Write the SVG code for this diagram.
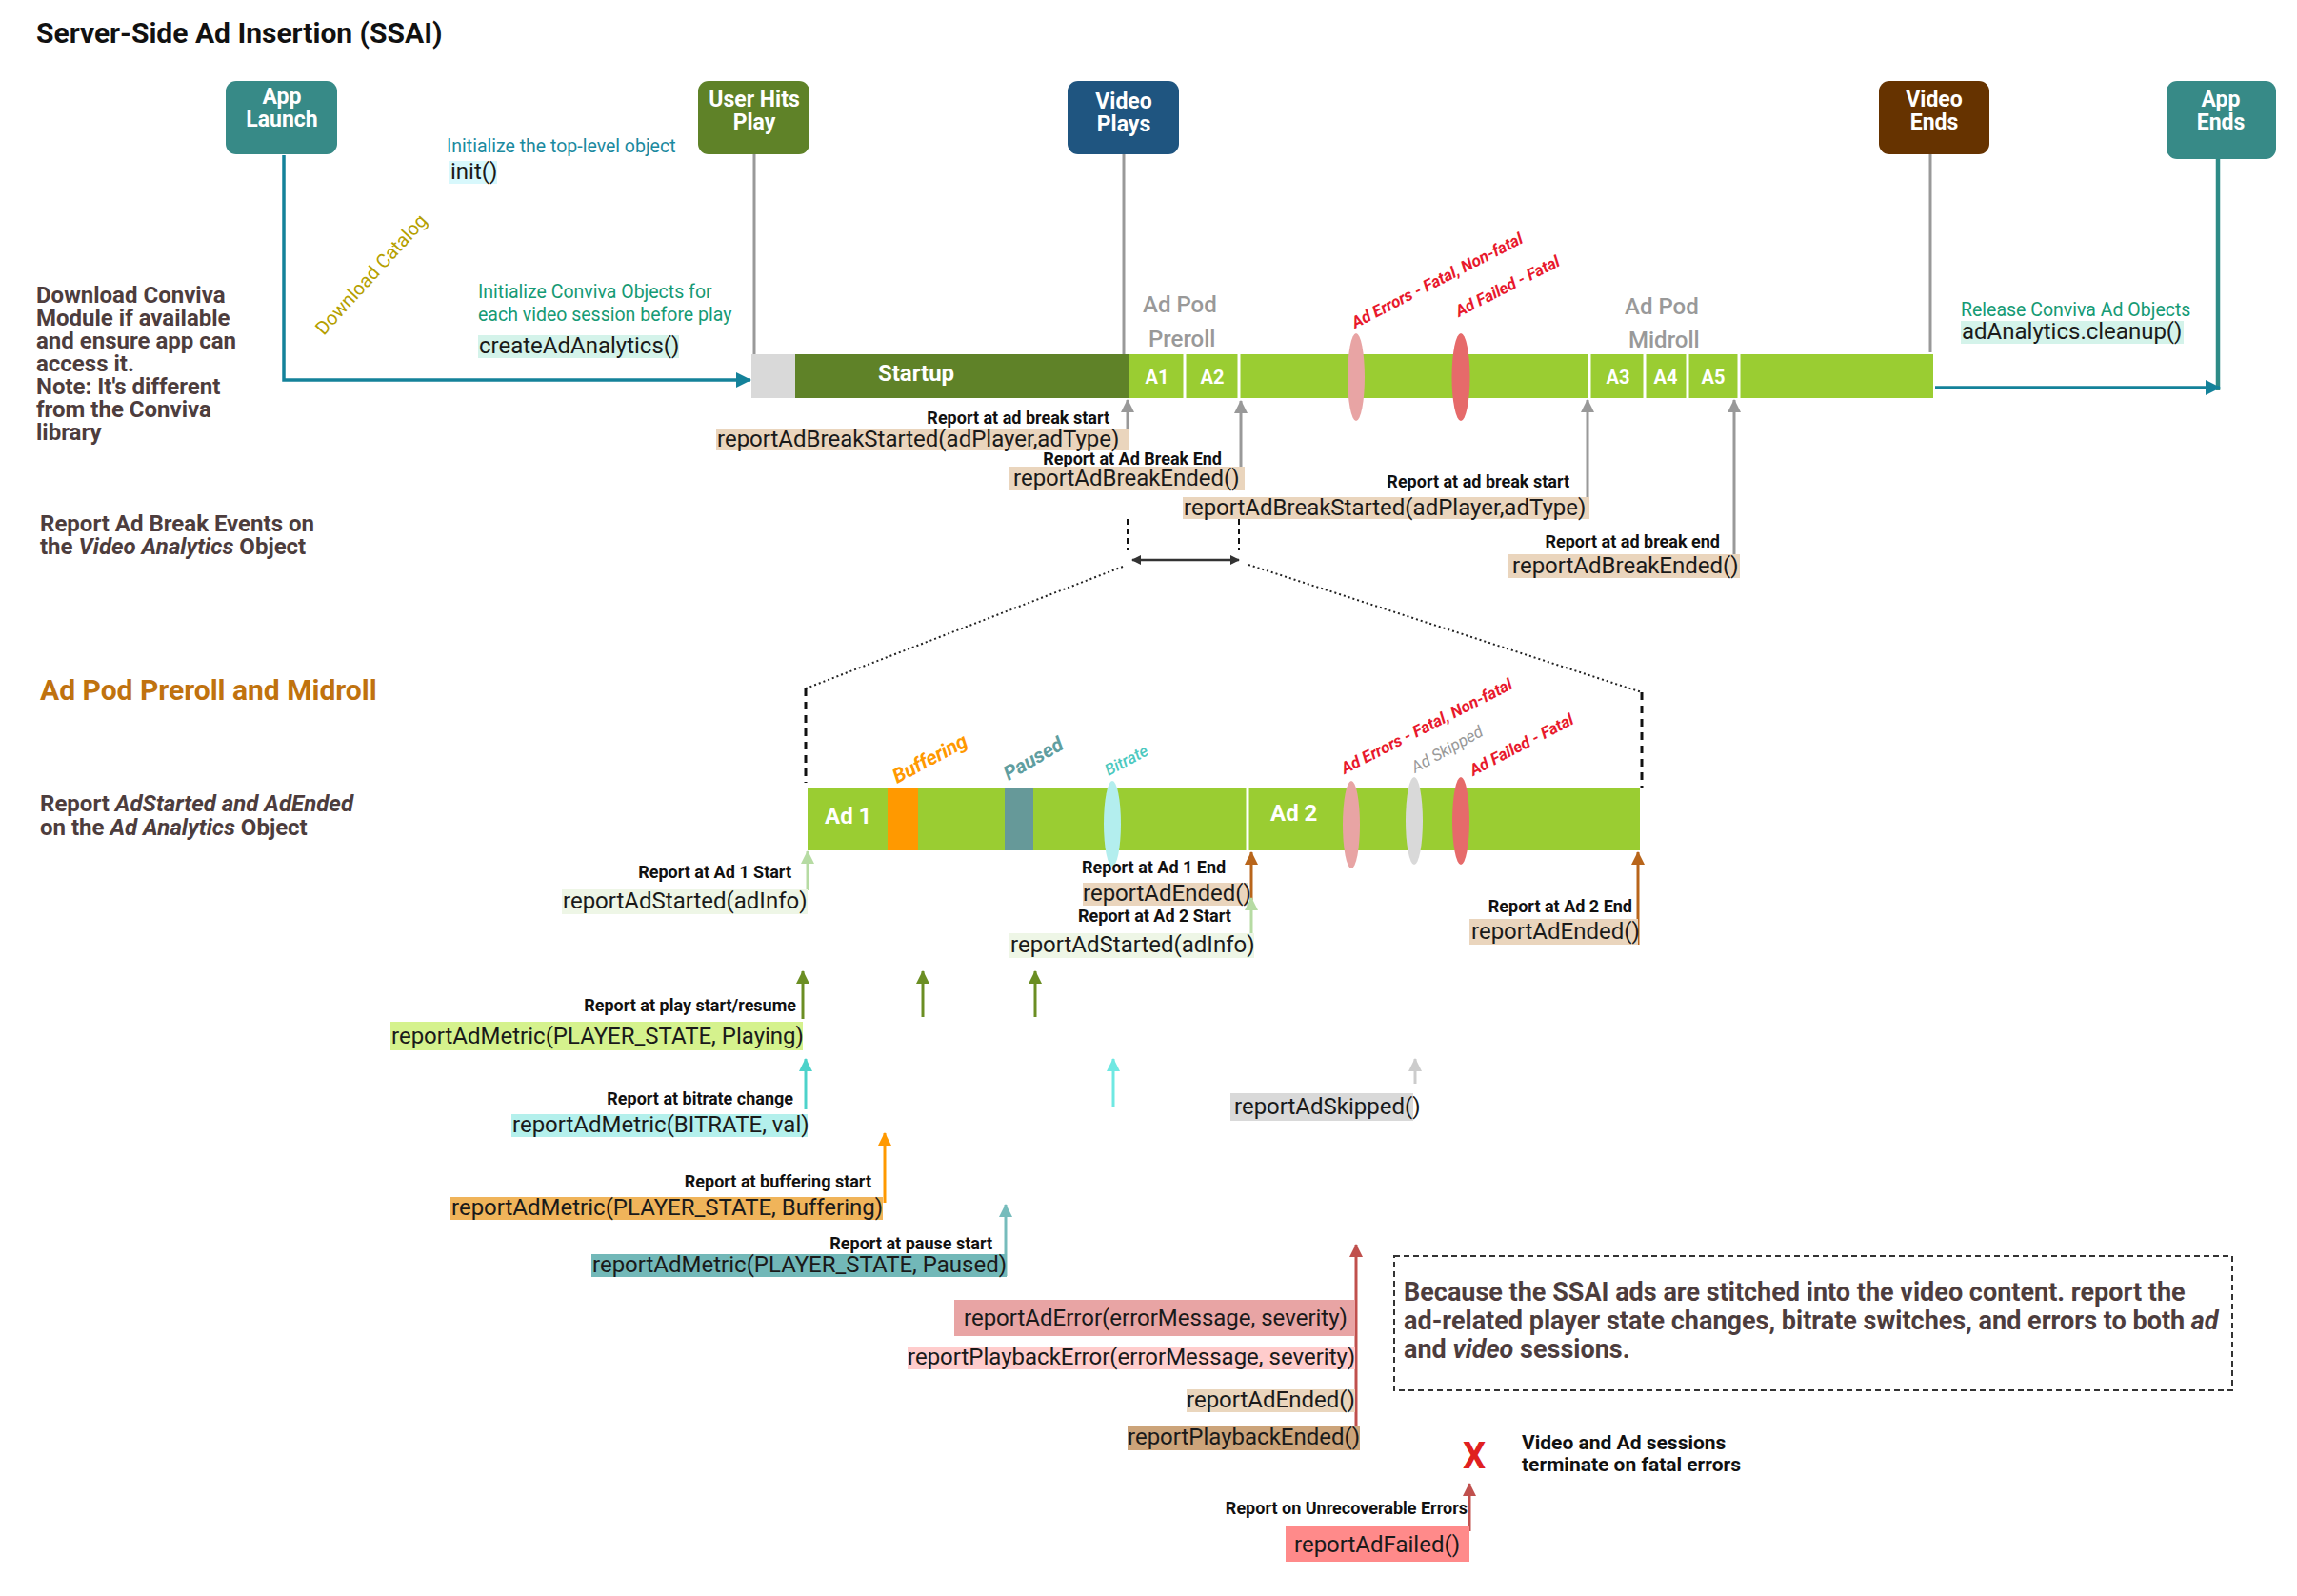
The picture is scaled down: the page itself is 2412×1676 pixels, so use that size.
<svg xmlns="http://www.w3.org/2000/svg" width="2412" height="1676" viewBox="0 0 2412 1676">
<style>
text{font-family:Roboto,"Liberation Sans",Arial,sans-serif}
.fn{font-size:24px;fill:#1a1a1a}
.lbl{font-size:18px;font-weight:bold;fill:#111}
.hd{font-size:24px;font-weight:bold;fill:#4d3d3d}
.nt{font-size:23px;font-weight:bold;fill:#fff;text-anchor:middle}
.seg{font-size:20px;font-weight:bold;fill:#fff;text-anchor:middle}
.pod{font-size:24px;font-weight:500;fill:#999}
.err{font-size:17px;font-weight:bold;font-style:italic;fill:#e8192c}
.sep{stroke:#fff;stroke-width:3}
.box{font-size:27px;font-weight:bold;fill:#4d3d3d}
</style>
<defs>
<marker id="mTeal" markerWidth="16" markerHeight="16" refX="15" refY="8" orient="auto" markerUnits="userSpaceOnUse"><path d="M0,0 L16,8 L0,16 z" fill="#14829a"/></marker>
<marker id="mGray" markerWidth="14" markerHeight="14" refX="13" refY="7" orient="auto" markerUnits="userSpaceOnUse"><path d="M0,0 L14,7 L0,14 z" fill="#999"/></marker>
<marker id="mLGray" markerWidth="14" markerHeight="14" refX="13" refY="7" orient="auto" markerUnits="userSpaceOnUse"><path d="M0,0 L14,7 L0,14 z" fill="#ccc"/></marker>
<marker id="mOlive" markerWidth="14" markerHeight="14" refX="13" refY="7" orient="auto" markerUnits="userSpaceOnUse"><path d="M0,0 L14,7 L0,14 z" fill="#6b8e23"/></marker>
<marker id="mLGreen" markerWidth="14" markerHeight="14" refX="13" refY="7" orient="auto" markerUnits="userSpaceOnUse"><path d="M0,0 L14,7 L0,14 z" fill="#b6dba3"/></marker>
<marker id="mBrown" markerWidth="14" markerHeight="14" refX="13" refY="7" orient="auto" markerUnits="userSpaceOnUse"><path d="M0,0 L14,7 L0,14 z" fill="#b8651b"/></marker>
<marker id="mCyan" markerWidth="14" markerHeight="14" refX="13" refY="7" orient="auto" markerUnits="userSpaceOnUse"><path d="M0,0 L14,7 L0,14 z" fill="#4dd2ca"/></marker>
<marker id="mCyan2" markerWidth="14" markerHeight="14" refX="13" refY="7" orient="auto" markerUnits="userSpaceOnUse"><path d="M0,0 L14,7 L0,14 z" fill="#6fe8e2"/></marker>
<marker id="mOrange" markerWidth="14" markerHeight="14" refX="13" refY="7" orient="auto" markerUnits="userSpaceOnUse"><path d="M0,0 L14,7 L0,14 z" fill="#ff9900"/></marker>
<marker id="mPause" markerWidth="14" markerHeight="14" refX="13" refY="7" orient="auto" markerUnits="userSpaceOnUse"><path d="M0,0 L14,7 L0,14 z" fill="#76bcbc"/></marker>
<marker id="mRed" markerWidth="14" markerHeight="14" refX="13" refY="7" orient="auto" markerUnits="userSpaceOnUse"><path d="M0,0 L14,7 L0,14 z" fill="#c0504d"/></marker>
<marker id="mDark" markerWidth="10" markerHeight="10" refX="9" refY="5" orient="auto-start-reverse" markerUnits="userSpaceOnUse"><path d="M0,0 L10,5 L0,10 z" fill="#333"/></marker>
</defs>
<rect width="2412" height="1676" fill="#fff"/>

<text x="38" y="45" font-size="30" font-weight="bold" fill="#111">Server-Side Ad Insertion (SSAI)</text>

<!-- Nodes -->
<g id="node-app-launch"><rect x="237" y="85" width="117" height="77" rx="11" fill="#378a87"/><text class="nt" x="296" y="109">App</text><text class="nt" x="296" y="133">Launch</text></g>
<g id="node-user-hits-play"><rect x="733" y="85" width="117" height="77" rx="11" fill="#5f8228"/><text class="nt" x="792" y="112">User Hits</text><text class="nt" x="792" y="136">Play</text></g>
<g id="node-video-plays"><rect x="1121" y="85" width="117" height="77" rx="11" fill="#1f5580"/><text class="nt" x="1180" y="114">Video</text><text class="nt" x="1180" y="138">Plays</text></g>
<g id="node-video-ends"><rect x="1973" y="85" width="116" height="77" rx="11" fill="#663300"/><text class="nt" x="2031" y="112">Video</text><text class="nt" x="2031" y="136">Ends</text></g>
<g id="node-app-ends"><rect x="2275" y="85" width="115" height="82" rx="11" fill="#378a87"/><text class="nt" x="2332" y="112">App</text><text class="nt" x="2332" y="136">Ends</text></g>

<!-- Top timeline -->
<g id="timeline-top">
<rect x="789" y="372" width="46" height="46" fill="#d9d9d9"/>
<rect x="835" y="372" width="350" height="46" fill="#5f8228"/>
<rect x="1185" y="372" width="845" height="46" fill="#9acd32"/>
<line class="sep" x1="1244" y1="372" x2="1244" y2="418" stroke-width="4"/>
<line class="sep" x1="1301" y1="372" x2="1301" y2="418" stroke-width="2"/>
<line class="sep" x1="1669" y1="372" x2="1669" y2="418" stroke-width="2"/>
<line class="sep" x1="1727" y1="372" x2="1727" y2="418" stroke-width="4"/>
<line class="sep" x1="1772" y1="372" x2="1772" y2="418" stroke-width="4"/>
<line class="sep" x1="1826" y1="372" x2="1826" y2="418" stroke-width="2"/>
<text x="962" y="400" font-size="24" font-weight="bold" fill="#fff" text-anchor="middle">Startup</text>
<text class="seg" x="1215" y="403">A1</text>
<text class="seg" x="1273" y="403">A2</text>
<text class="seg" x="1699" y="403">A3</text>
<text class="seg" x="1749" y="403">A4</text>
<text class="seg" x="1799" y="403">A5</text>
<ellipse cx="1424" cy="396" rx="9" ry="46" fill="#e8a4a4"/>
<ellipse cx="1534" cy="396" rx="9.5" ry="46" fill="#e66a6a"/>
<text class="pod" x="1200" y="328">Ad Pod</text>
<text class="pod" x="1206" y="364">Preroll</text>
<text class="pod" x="1706" y="330">Ad Pod</text>
<text class="pod" x="1710" y="365">Midroll</text>
<text class="err" transform="translate(1423,345) rotate(-27)">Ad Errors - Fatal, Non-fatal</text>
<text class="err" transform="translate(1532,333) rotate(-27)">Ad Failed - Fatal</text>
</g>

<!-- Lower (zoomed) timeline -->
<g id="timeline-pod">
<rect x="848" y="828" width="874" height="65" fill="#9acd32"/>
<rect x="932" y="828" width="32" height="65" fill="#ff9900"/>
<rect x="1055" y="828" width="30" height="65" fill="#669999"/>
<line class="sep" x1="1310" y1="828" x2="1310" y2="893" stroke-width="2"/>
<ellipse cx="1168" cy="865" rx="9" ry="45" fill="#b3eeee"/>
<ellipse cx="1419" cy="866" rx="9" ry="46" fill="#e8a4a4"/>
<ellipse cx="1485" cy="862" rx="9" ry="46" fill="#d9d9d9"/>
<ellipse cx="1534" cy="862" rx="9" ry="46" fill="#e66a6a"/>
<text x="866" y="865" font-size="24" font-weight="bold" fill="#fff">Ad 1</text>
<text x="1334" y="862" font-size="24" font-weight="bold" fill="#fff">Ad 2</text>
<text transform="translate(942,823) rotate(-28)" font-size="21" font-weight="bold" font-style="italic" fill="#ff9900">Buffering</text>
<text transform="translate(1059,820) rotate(-30)" font-size="21" font-weight="bold" font-style="italic" fill="#5f9ea0">Paused</text>
<text transform="translate(1164,815) rotate(-28)" font-size="17" font-weight="500" font-style="italic" fill="#4cc9c0">Bitrate</text>
<text class="err" transform="translate(1412,813) rotate(-27)">Ad Errors - Fatal, Non-fatal</text>
<text transform="translate(1486,812) rotate(-29)" font-size="17" font-style="italic" fill="#999">Ad Skipped</text>
<text class="err" transform="translate(1547,815) rotate(-27.5)">Ad Failed - Fatal</text>
</g>

<!-- Connectors -->
<g id="connectors" fill="none">
<polyline points="298,163 298,399 788,399" stroke="#14829a" stroke-width="3.5" marker-end="url(#mTeal)"/>
<line x1="792" y1="162" x2="792" y2="372" stroke="#999" stroke-width="3"/>
<line x1="1180" y1="162" x2="1180" y2="372" stroke="#999" stroke-width="3"/>
<line x1="2027" y1="162" x2="2027" y2="370" stroke="#999" stroke-width="3"/>
<line x1="2329" y1="167" x2="2329" y2="410" stroke="#2e8b87" stroke-width="4.5"/>
<line x1="2032" y1="407" x2="2331" y2="407" stroke="#14829a" stroke-width="3.5" marker-end="url(#mTeal)"/>

<line x1="1184" y1="450" x2="1184" y2="420" stroke="#999" stroke-width="3" marker-end="url(#mGray)"/>
<line x1="1303" y1="492" x2="1303" y2="421" stroke="#999" stroke-width="3" marker-end="url(#mGray)"/>
<line x1="1667" y1="522" x2="1667" y2="420" stroke="#999" stroke-width="3" marker-end="url(#mGray)"/>
<line x1="1821" y1="582" x2="1821" y2="420" stroke="#999" stroke-width="3" marker-end="url(#mGray)"/>

<line x1="1184" y1="545" x2="1184" y2="578" stroke="#111" stroke-width="2" stroke-dasharray="6,4"/>
<line x1="1301" y1="545" x2="1301" y2="578" stroke="#111" stroke-width="2" stroke-dasharray="6,4"/>
<line x1="1189" y1="588" x2="1301" y2="588" stroke="#333" stroke-width="2.5" marker-start="url(#mDark)" marker-end="url(#mDark)"/>
<line x1="1179" y1="595" x2="846" y2="723" stroke="#222" stroke-width="2" stroke-dasharray="2,3"/>
<line x1="1311" y1="593" x2="1724" y2="727" stroke="#222" stroke-width="2" stroke-dasharray="2,3"/>
<line x1="846" y1="723" x2="846" y2="822" stroke="#111" stroke-width="3" stroke-dasharray="8,6"/>
<line x1="1724" y1="727" x2="1724" y2="828" stroke="#111" stroke-width="3" stroke-dasharray="8,6"/>

<line x1="848" y1="935" x2="848" y2="894" stroke="#b6dba3" stroke-width="3" marker-end="url(#mLGreen)"/>
<line x1="1314" y1="945" x2="1314" y2="895" stroke="#b8651b" stroke-width="3" marker-end="url(#mBrown)"/>
<line x1="1314" y1="982" x2="1314" y2="943" stroke="#b6dba3" stroke-width="3" marker-end="url(#mLGreen)"/>
<line x1="1720" y1="992" x2="1720" y2="895" stroke="#b8651b" stroke-width="3" marker-end="url(#mBrown)"/>

<line x1="843" y1="1070" x2="843" y2="1020" stroke="#6b8e23" stroke-width="3" marker-end="url(#mOlive)"/>
<line x1="969" y1="1068" x2="969" y2="1020" stroke="#6b8e23" stroke-width="3" marker-end="url(#mOlive)"/>
<line x1="1087" y1="1068" x2="1087" y2="1020" stroke="#6b8e23" stroke-width="3" marker-end="url(#mOlive)"/>
<line x1="846" y1="1165" x2="846" y2="1112" stroke="#4dd2ca" stroke-width="3" marker-end="url(#mCyan)"/>
<line x1="1169" y1="1163" x2="1169" y2="1112" stroke="#6fe8e2" stroke-width="3" marker-end="url(#mCyan2)"/>
<line x1="1486" y1="1138" x2="1486" y2="1112" stroke="#ccc" stroke-width="3" marker-end="url(#mLGray)"/>
<line x1="929" y1="1263" x2="929" y2="1190" stroke="#ff9900" stroke-width="3" marker-end="url(#mOrange)"/>
<line x1="1056" y1="1340" x2="1056" y2="1265" stroke="#76bcbc" stroke-width="3" marker-end="url(#mPause)"/>
<line x1="1424" y1="1517" x2="1424" y2="1307" stroke="#c0504d" stroke-width="3" marker-end="url(#mRed)"/>
<line x1="1543" y1="1608" x2="1543" y2="1558" stroke="#c0504d" stroke-width="3" marker-end="url(#mRed)"/>
</g>

<!-- Top annotations -->
<g id="annotations-top">
<text x="469" y="160" font-size="19.5" fill="#1b8aa0">Initialize the top-level object</text>
<rect x="472" y="169" width="50" height="24" fill="#d8f8fc"/>
<text class="fn" x="473" y="188">init()</text>
<text transform="translate(340,353) rotate(-47.7)" font-size="20" fill="#b5a000">Download Catalog</text>
<text x="502" y="313" font-size="19.5" fill="#169a74">Initialize Conviva Objects for</text>
<text x="502" y="337" font-size="19.5" fill="#169a74">each video session before play</text>
<rect x="502" y="352" width="211" height="24" fill="#d4f3ea"/>
<text class="fn" x="503" y="371">createAdAnalytics()</text>
<text x="2059" y="332" font-size="19.5" fill="#169a74">Release Conviva Ad Objects</text>
<rect x="2059" y="337" width="234" height="24" fill="#d4f3ea"/>
<text class="fn" x="2060" y="356">adAnalytics.cleanup()</text>

<text class="hd" x="38" y="318">Download Conviva</text>
<text class="hd" x="38" y="342">Module if available</text>
<text class="hd" x="38" y="366">and ensure app can</text>
<text class="hd" x="38" y="390">access it.</text>
<text class="hd" x="38" y="414">Note: It's different</text>
<text class="hd" x="38" y="438">from the Conviva</text>
<text class="hd" x="38" y="462">library</text>

<text class="lbl" x="1165" y="445" text-anchor="end">Report at ad break start</text>
<rect x="752" y="450" width="434" height="23" fill="#ead5bd"/>
<text class="fn" x="753" y="469">reportAdBreakStarted(adPlayer,adType)</text>
<text class="lbl" x="1283" y="488" text-anchor="end">Report at Ad Break End</text>
<rect x="1059" y="490" width="248" height="25" fill="#ead5bd"/>
<text class="fn" x="1064" y="510">reportAdBreakEnded()</text>
<text class="lbl" x="1648" y="512" text-anchor="end">Report at ad break start</text>
<rect x="1242" y="522" width="427" height="23" fill="#ead5bd"/>
<text class="fn" x="1243" y="541">reportAdBreakStarted(adPlayer,adType)</text>
<text class="lbl" x="1806" y="575" text-anchor="end">Report at ad break end</text>
<rect x="1584" y="582" width="243" height="25" fill="#ead5bd"/>
<text class="fn" x="1588" y="602">reportAdBreakEnded()</text>

<text class="hd" x="42" y="558">Report Ad Break Events on</text>
<text class="hd" x="42" y="582">the <tspan font-style="italic">Video Analytics</tspan> Object</text>
<text x="42" y="735" font-size="30" font-weight="bold" fill="#c0720e">Ad Pod Preroll and Midroll</text>
<text class="hd" x="42" y="852">Report <tspan font-style="italic">AdStarted and AdEnded</tspan></text>
<text class="hd" x="42" y="877">on the <tspan font-style="italic">Ad Analytics</tspan> Object</text>
</g>

<!-- Lower annotations -->
<g id="annotations-pod">
<text class="lbl" x="831" y="922" text-anchor="end">Report at Ad 1 Start</text>
<rect x="590" y="934" width="258" height="26" fill="#eef6e6"/>
<text class="fn" x="591" y="954">reportAdStarted(adInfo)</text>
<text class="lbl" x="1136" y="917">Report at Ad 1 End</text>
<rect x="1137" y="927" width="174" height="24" fill="#ead5bd"/>
<text class="fn" x="1137" y="946">reportAdEnded()</text>
<text class="lbl" x="1132" y="968">Report at Ad 2 Start</text>
<rect x="1060" y="980" width="257" height="26" fill="#eef6e6"/>
<text class="fn" x="1061" y="1000">reportAdStarted(adInfo)</text>
<text class="lbl" x="1714" y="958" text-anchor="end">Report at Ad 2 End</text>
<rect x="1543" y="965" width="177" height="27" fill="#ead5bd"/>
<text class="fn" x="1545" y="986">reportAdEnded()</text>

<text class="lbl" x="836" y="1062" text-anchor="end">Report at play start/resume</text>
<rect x="410" y="1073" width="433" height="30" fill="#d5f28d"/>
<text class="fn" x="411" y="1096">reportAdMetric(PLAYER_STATE, Playing)</text>
<text class="lbl" x="833" y="1160" text-anchor="end">Report at bitrate change</text>
<rect x="537" y="1170" width="311" height="24" fill="#b4f0ec"/>
<text class="fn" x="538" y="1189">reportAdMetric(BITRATE, val)</text>
<rect x="1292" y="1148" width="192" height="29" fill="#d9d9d9"/>
<text class="fn" x="1296" y="1170">reportAdSkipped()</text>
<text class="lbl" x="915" y="1247" text-anchor="end">Report at buffering start</text>
<rect x="473" y="1257" width="454" height="24" fill="#f0b45a"/>
<text class="fn" x="474" y="1276">reportAdMetric(PLAYER_STATE, Buffering)</text>
<text class="lbl" x="1042" y="1312" text-anchor="end">Report at pause start</text>
<rect x="621" y="1317" width="436" height="24" fill="#72b8b8"/>
<text class="fn" x="622" y="1336">reportAdMetric(PLAYER_STATE, Paused)</text>

<rect x="1002" y="1365" width="421" height="38" fill="#e8a4a4"/>
<text class="fn" x="1012" y="1392">reportAdError(errorMessage, severity)</text>
<rect x="953" y="1414" width="470" height="24" fill="#ffcccc"/>
<text class="fn" x="953" y="1433">reportPlaybackError(errorMessage, severity)</text>
<rect x="1246" y="1459" width="177" height="24" fill="#ead6bd"/>
<text class="fn" x="1246" y="1478">reportAdEnded()</text>
<rect x="1184" y="1498" width="244" height="25" fill="#cca47a"/>
<text class="fn" x="1184" y="1517">reportPlaybackEnded()</text>

<rect x="1464" y="1319" width="880" height="141" fill="none" stroke="#333" stroke-width="2" stroke-dasharray="6,4"/>
<text class="box" x="1474" y="1366">Because the SSAI ads are stitched into the video content. report the</text>
<text class="box" x="1474" y="1396">ad-related player state changes, bitrate switches, and errors to both <tspan font-style="italic">ad</tspan></text>
<text class="box" x="1474" y="1426">and <tspan font-style="italic">video</tspan> sessions.</text>

<text x="1548" y="1542" font-size="38" font-weight="bold" fill="#e02020" text-anchor="middle">X</text>
<text x="1598" y="1522" font-size="21" font-weight="bold" fill="#111">Video and Ad sessions</text>
<text x="1598" y="1545" font-size="21" font-weight="bold" fill="#111">terminate on fatal errors</text>
<text class="lbl" x="1541" y="1590" text-anchor="end">Report on Unrecoverable Errors</text>
<rect x="1350" y="1603" width="193" height="37" fill="#ff8a8a"/>
<text class="fn" x="1359" y="1630">reportAdFailed()</text>
</g>
</svg>
